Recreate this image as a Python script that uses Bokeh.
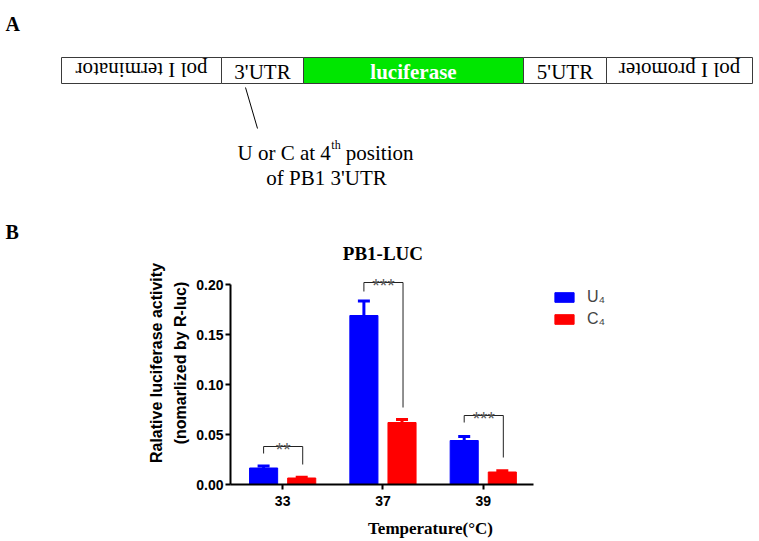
import numpy as np
from bokeh.plotting import figure
from bokeh.models import (Range1d, FixedTicker, ColumnDataSource, Whisker, TeeHead,
                          Legend, LegendItem, PrintfTickFormatter)
from bokeh.embed import file_html
from bokeh.resources import INLINE
from bokeh.core.properties import value

# ---------------- data ----------------
temperatures = ["33", "37", "39"]
u4_values = [0.0165, 0.169, 0.044]
u4_errors = [0.0020, 0.0145, 0.0040]
c4_values = [0.0065, 0.062, 0.0125]
c4_errors = [0.0008, 0.0030, 0.0012]
series_names = ["U\u2084", "C\u2084"]
sig_labels = ["**", "***", "***"]
bracket_tops = [0.038, 0.202, 0.069]
bracket_left_ends = [0.031, 0.193, 0.062]
bracket_right_ends = [0.020, 0.077, 0.027]
y_ticks = [0.0, 0.05, 0.10, 0.15, 0.20]
chart_title = "PB1-LUC"
x_title = "Temperature(\u00b0C)"
y_title = "Ralative luciferase activity\n(nomarlized by R-luc)"

construct_parts = ["pol I terminator", "3'UTR", "luciferase", "5'UTR", "pol I promoter"]
construct_upside_down = [True, False, False, False, True]
annotation_line1 = ["U or C at 4", "th", "position"]
annotation_line2 = "of PB1 3'UTR"

# ---------------- layout constants (page pixels) ----------------
W = 759
HA = 241
part_edges = [61, 221, 303, 523, 606, 752]
box_top, box_bottom = 57, 83
BLUE, RED, GREEN = "#0000ff", "#ff0000", "#00e600"
SERIF, SANS = "Liberation Serif", "Liberation Sans"

# ---------------- panel A (schematic) ----------------
pa = figure(width=W, height=HA, x_range=Range1d(0, W), y_range=Range1d(HA, 0),
            x_axis_type=None, y_axis_type=None, min_border=0,
            output_backend="svg", toolbar_location=None)
pa.grid.visible = False
pa.outline_line_color = None

fills = [GREEN if name == "luciferase" else "white" for name in construct_parts]
pa.quad(left=part_edges[:-1], right=part_edges[1:], top=box_top, bottom=box_bottom,
        fill_color=fills, line_color="#3a3a3a", line_width=1)

centers = [(a + b) / 2 for a, b in zip(part_edges[:-1], part_edges[1:])]
mid_y = (box_top + box_bottom) / 2
for name, cx, flip in zip(construct_parts, centers, construct_upside_down):
    bold = name == "luciferase"
    pa.text(x=[cx], y=[mid_y + (1 if not flip else -1)], text=[name],
            angle=np.pi if flip else 0,
            text_align="center", text_baseline="middle",
            text_font=value(SERIF), text_font_size="21px",
            text_font_style="bold" if bold else "normal",
            text_color="white" if bold else "black")

pa.line(x=[245, 257], y=[87, 128], line_color="black", line_width=1)

split_x = 330.3
base1 = 152
pa.text(x=[split_x], y=[base1], text=[annotation_line1[0]], text_align="right",
        text_baseline="alphabetic", text_font=value(SERIF), text_font_size="21px")
pa.text(x=[split_x + 0.5], y=[base1 - 8], text=[annotation_line1[1]], text_align="left",
        text_baseline="alphabetic", text_font=value(SERIF), text_font_size="12px")
pa.text(x=[split_x + 15], y=[base1], text=[annotation_line1[2]], text_align="left",
        text_baseline="alphabetic", text_font=value(SERIF), text_font_size="21px")
pa.text(x=[326], y=[base1 + 25], text=[annotation_line2], text_align="center",
        text_baseline="alphabetic", text_font=value(SERIF), text_font_size="21px")

for letter, by in (("A", 23), ("B", 231)):
    pa.text(x=[5], y=[by], text=[letter], text_align="left", text_baseline="alphabetic",
            text_font=value(SERIF), text_font_size="20px", text_font_style="bold")

# ---------------- panel B (bar chart) ----------------
k = 100.3          # px per category unit
frame_w = 400
left_border = 230
x_start = -0.52
y_top = 0.243
pb = figure(frame_width=frame_w, frame_height=243,
            x_range=Range1d(x_start, x_start + frame_w / k), y_range=Range1d(0, y_top),
            min_border_left=left_border, min_border_right=W - left_border - frame_w,
            min_border_top=0, min_border_bottom=57,
            output_backend="svg", toolbar_location=None)
pb.grid.visible = False
pb.outline_line_color = None

xpos = np.arange(len(temperatures))
off = 0.19
bw = 0.28
src_u = ColumnDataSource(dict(x=xpos - off, top=u4_values,
                              upper=np.array(u4_values) + np.array(u4_errors)))
src_c = ColumnDataSource(dict(x=xpos + off, top=c4_values,
                              upper=np.array(c4_values) + np.array(c4_errors)))
r_u = pb.vbar(x="x", top="top", width=bw, source=src_u, fill_color=BLUE, line_color=BLUE)
r_c = pb.vbar(x="x", top="top", width=bw, source=src_c, fill_color=RED, line_color=RED)

for src, col in ((src_u, BLUE), (src_c, RED)):
    pb.add_layout(Whisker(source=src, base="x", upper="upper", lower="top",
                          upper_head=TeeHead(size=12, line_color=col, line_width=3),
                          lower_head=None, line_color=col, line_width=3))

# significance brackets
bxs, bys = [], []
for i in range(len(temperatures)):
    l, r = xpos[i] - off, xpos[i] + off + 0.01
    bxs.append([l, l, r, r])
    bys.append([bracket_left_ends[i], bracket_tops[i], bracket_tops[i], bracket_right_ends[i]])
pb.multi_line(xs=bxs, ys=bys, line_color="#222222", line_width=1)
pb.text(x=xpos + 0.005, y=bracket_tops, text=sig_labels, text_align="center",
        text_baseline="alphabetic", y_offset=3, text_font=value(SANS),
        text_font_size="19px", text_color="#555555")

pb.text(x=[1.0], y=[0.231], text=[chart_title], text_align="center", text_baseline="middle",
        text_font=value(SERIF), text_font_size="19px", text_font_style="bold")

# axes
for ax in (pb.xaxis[0], pb.yaxis[0]):
    ax.axis_line_width = 2
    ax.axis_line_color = "black"
    ax.major_tick_line_width = 2
    ax.major_tick_out = 5
    ax.major_tick_in = 0
    ax.minor_tick_line_color = None
    ax.major_label_text_font = SANS
    ax.major_label_text_font_size = "14px"
    ax.major_label_text_font_style = "bold"
    ax.major_label_text_color = "black"

pb.xaxis.ticker = FixedTicker(ticks=list(xpos))
pb.xaxis.major_label_overrides = {int(i): t for i, t in zip(xpos, temperatures)}
pb.xaxis.bounds = (x_start, 2.5)
pb.xaxis.major_label_standoff = 6
pb.xaxis.axis_label = x_title
pb.xaxis.axis_label_text_font = SERIF
pb.xaxis.axis_label_text_font_size = "17px"
pb.xaxis.axis_label_text_font_style = "bold"
pb.xaxis.axis_label_text_color = "black"
pb.xaxis.axis_label_standoff = 10

pb.yaxis.ticker = FixedTicker(ticks=y_ticks)
pb.yaxis.formatter = PrintfTickFormatter(format="%.2f")
pb.yaxis.bounds = (0, 0.2)
pb.yaxis.major_label_standoff = 2
pb.yaxis.axis_label = y_title
pb.yaxis.axis_label_text_font = SANS
pb.yaxis.axis_label_text_font_size = "16px"
pb.yaxis.axis_label_text_font_style = "bold"
pb.yaxis.axis_label_text_color = "black"
pb.yaxis.axis_label_text_line_height = 1.4
pb.yaxis.axis_label_standoff = 4

legend = Legend(items=[LegendItem(label=series_names[0], renderers=[r_u]),
                       LegendItem(label=series_names[1], renderers=[r_c])],
                location=(322, 156), glyph_width=24, glyph_height=12,
                label_text_font=SANS, label_text_font_size="16px", label_standoff=11,
                label_height=12, spacing=4, padding=0, margin=0,
                border_line_color=None, background_fill_alpha=0)
pb.add_layout(legend)

open("out.html", "w").write(file_html([pa, pb], INLINE))
